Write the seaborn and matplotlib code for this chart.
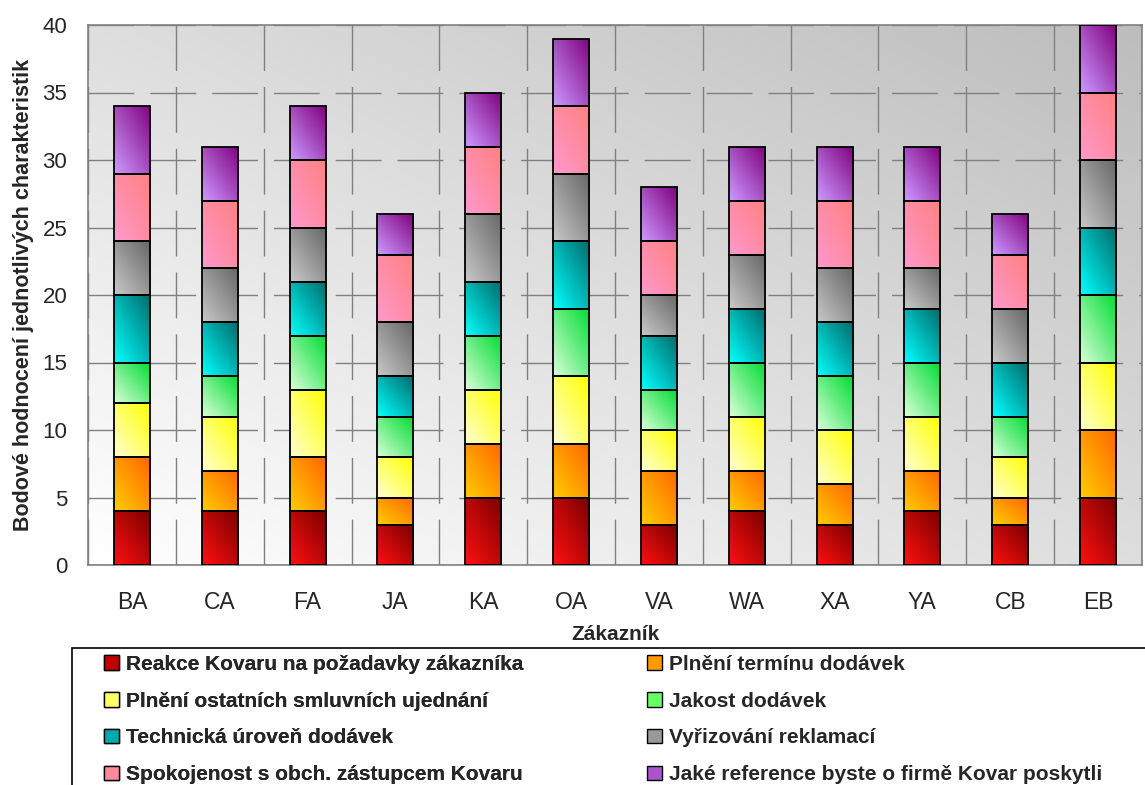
import numpy as np
import matplotlib
matplotlib.use('Agg')
import matplotlib.pyplot as plt
import seaborn as sns
from matplotlib.colors import LinearSegmentedColormap
from matplotlib.patches import Patch, Rectangle

# Data
customers = ['BA', 'CA', 'FA', 'JA', 'KA', 'OA', 'VA', 'WA', 'XA', 'YA', 'CB', 'EB']

criteria = [
    'Reakce Kovaru na požadavky zákazníka',
    'Plnění termínu dodávek',
    'Plnění ostatních smluvních ujednání',
    'Jakost dodávek',
    'Technická úroveň dodávek',
    'Vyřizování reklamací',
    'Spokojenost s obch. zástupcem Kovaru',
    'Jaké reference byste o firmě Kovar poskytli',
]

reakce      = [4, 4, 4, 3, 5, 5, 3, 4, 3, 4, 3, 5]
terminy     = [4, 3, 4, 2, 4, 4, 4, 3, 3, 3, 2, 5]
ujednani    = [4, 4, 5, 3, 4, 5, 3, 4, 4, 4, 3, 5]
jakost      = [3, 3, 4, 3, 4, 5, 3, 4, 4, 4, 3, 5]
technicka   = [5, 4, 4, 3, 4, 5, 4, 4, 4, 4, 4, 5]
reklamace   = [4, 4, 4, 4, 5, 5, 3, 4, 4, 3, 4, 5]
spokojenost = [5, 5, 5, 5, 5, 5, 4, 4, 5, 5, 4, 5]
reference   = [5, 4, 4, 3, 4, 5, 4, 4, 4, 4, 3, 5]

series = [reakce, terminy, ujednani, jakost, technicka, reklamace, spokojenost, reference]

# (light, dark, legend) colours for the gradient fills
colors = [
    ('#ff1010', '#7a0000', '#c00000'),
    ('#ffcc00', '#ff6600', '#ff9900'),
    ('#ffffd0', '#ffff00', '#ffff66'),
    ('#d8ffd8', '#00dd33', '#66ff66'),
    ('#00ffff', '#006a6a', '#00aaaa'),
    ('#c8c8c8', '#666666', '#999999'),
    ('#ff99cc', '#ff8080', '#ff8899'),
    ('#cc99ff', '#800080', '#aa55cc'),
]

sns.set_style('white')
plt.rcParams['font.family'] = ['Liberation Sans', 'DejaVu Sans']

W, H = 1145, 785
fig = plt.figure(figsize=(W / 100, H / 100), dpi=100)
ax = fig.add_axes([88 / W, 1 - 565 / H, (1142 - 88) / W, (565 - 25) / H])


def gradient(n=64):
    u = np.linspace(0, 1, n)
    U, V = np.meshgrid(u, u)
    return (U + V) / 2


# plot-area background: white bottom-left to grey top-right
bg = LinearSegmentedColormap.from_list('bg', ['#ffffff', '#bdbdbd'])
ax.imshow(gradient(), cmap=bg, extent=[0, 1, 0, 1], transform=ax.transAxes,
          origin='lower', aspect='auto', zorder=-1, interpolation='bilinear')

# stacked bars
bottom = np.zeros(len(customers))
for name, vals, (c1, c2, c3) in zip(criteria, series, colors):
    n_before = len(ax.patches)
    sns.barplot(x=customers, y=vals, color=c3, width=0.41, saturation=1,
                errorbar=None, edgecolor='black', linewidth=1.3, ax=ax, zorder=4)
    cmap = LinearSegmentedColormap.from_list(name, [c1, c2])
    for p, b in zip(ax.patches[n_before:], bottom):
        p.set_y(b)
        p.set_facecolor('none')
        x0, w, h = p.get_x(), p.get_width(), p.get_height()
        im = ax.imshow(gradient(), cmap=cmap, extent=[x0, x0 + w, b, b + h],
                       origin='lower', aspect='auto', zorder=3, interpolation='bilinear')
        im.set_clip_path(p)
    bottom += np.array(vals)

ax.set_xlim(-0.5, len(customers) - 0.5)
ax.set_ylim(0, 40)
ax.set_yticks(np.arange(0, 41, 5))
ax.set_xticks(np.arange(len(customers)))
ax.set_xticklabels(customers)
ax.set_xticks(np.arange(-0.5, len(customers), 1), minor=True)

# dashed grid
ax.set_axisbelow(True)
grid_kw = dict(color='#808080', linewidth=1.0, linestyle=(0, (33, 11.5)))
ax.grid(axis='y', which='major', **grid_kw)
ax.grid(axis='x', which='minor', **grid_kw)
ax.grid(axis='x', which='major', visible=False)

for s in ax.spines.values():
    s.set_color('#808080')
    s.set_linewidth(1.2)

ax.tick_params(axis='y', which='major', length=6, color='#808080', labelsize=16, pad=9)
ax.tick_params(axis='x', which='major', length=0, labelsize=16.5, pad=19)
ax.tick_params(axis='x', which='minor', length=8, color='#808080')

ax.set_xlabel('Zákazník', fontsize=15, fontweight='bold', labelpad=8)
ax.set_ylabel('Bodové hodnocení jednotlivých charakteristik', fontsize=15.5,
              fontweight='bold', labelpad=6)

# legend box
fig.add_artist(Rectangle((72 / W, -0.05), 1.0, 0.05 + (H - 648) / H,
                         transform=fig.transFigure, facecolor='white',
                         edgecolor='black', linewidth=1.2, zorder=0))

handles = [Patch(facecolor=c[2], edgecolor='black', linewidth=1.0) for c in colors]
leg_kw = dict(frameon=False, loc='upper left', handlelength=0.7,
              handleheight=0.7, handletextpad=0.35, labelspacing=0.85,
              borderpad=0, borderaxespad=0, prop={'weight': 'bold', 'size': 15})
left_idx = [0, 2, 4, 6]
right_idx = [1, 3, 5, 7]
leg1 = fig.legend([handles[i] for i in left_idx], [criteria[i] for i in left_idx],
                  bbox_to_anchor=(104 / W, 1 - 655 / H), **leg_kw)
fig.add_artist(leg1)
fig.legend([handles[i] for i in right_idx], [criteria[i] for i in right_idx],
           bbox_to_anchor=(647 / W, 1 - 655 / H), **leg_kw)

fig.savefig('out.png', dpi=100)
plt.close(fig)
